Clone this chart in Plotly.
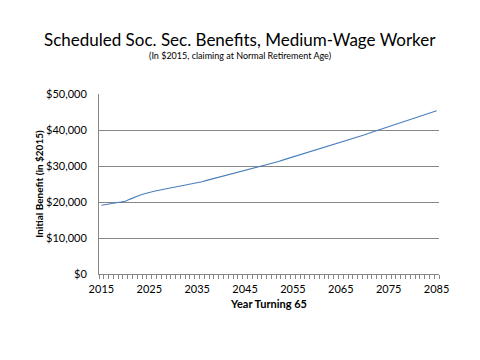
import plotly.graph_objects as go

years = list(range(2015, 2086))
benefit = [
    19100, 19300, 19500, 19700, 19900, 20200, 20800, 21400, 21900, 22300,
    22700, 23000, 23250, 23500, 23750, 24000, 24250, 24500, 24800, 25050,
    25300, 25600, 26000, 26350, 26700, 27050, 27350, 27700, 28050, 28400,
    28700, 29000, 29350, 29650, 30000, 30400, 30850, 31250, 31700, 32100,
    32500, 32950, 33350, 33800, 34200, 34600, 35000, 35400, 35800, 36200,
    36600, 37000, 37400, 37800, 38200, 38700, 39150, 39600, 40000, 40400,
    40800, 41250, 41700, 42100, 42550, 43000, 43450, 43900, 44350, 44850,
    45350,
]
x_ticks = [2015, 2025, 2035, 2045, 2055, 2065, 2075, 2085]
y_ticks = [0, 10000, 20000, 30000, 40000, 50000]
y_labels = ["$0", "$10,000", "$20,000", "$30,000", "$40,000", "$50,000"]

title = "Scheduled Soc. Sec. Benefits, Medium-Wage Worker"
subtitle = "(In $2015, claiming at Normal Retirement Age)"

FONT = "Lato"
L, R, T, B = 99, 41, 94, 86
W, H = 480, 360
pw, ph = W - L - R, H - T - B

fig = go.Figure()
fig.add_trace(go.Scatter(
    x=years, y=benefit, mode="lines",
    line=dict(color="#4a7ebb", width=1.1),
    showlegend=False, hoverinfo="skip",
))

fig.update_layout(
    width=W, height=H,
    margin=dict(l=L, r=R, t=T, b=B, autoexpand=False),
    paper_bgcolor="white", plot_bgcolor="white",
    font=dict(family=FONT, color="#000000", size=11),
    xaxis=dict(
        range=[2014.5, 2085.5], automargin=False,
        tickmode="array", tickvals=x_ticks,
        ticks="", showgrid=False, ticklabelstandoff=5,
        showline=True, linecolor="#868686", linewidth=1,
        tickfont=dict(size=11, family=FONT),
        minor=dict(ticks="outside", ticklen=4, tickcolor="#868686",
                   tickmode="linear", tick0=2014.5, dtick=1, showgrid=False),
        title=dict(text="<b>Year Turning 65</b>", font=dict(size=11, family=FONT),
                   standoff=6),
        zeroline=False,
    ),
    yaxis=dict(
        range=[0, 50000], automargin=False,
        tickmode="array", tickvals=y_ticks, ticktext=y_labels,
        ticks="", showgrid=True, gridcolor="#868686", gridwidth=1,
        ticklabelstandoff=9,
        showline=True, linecolor="#868686", linewidth=1,
        tickfont=dict(size=11, family=FONT),
        title=dict(text="<b>Initial Benefit (in $2015)</b>",
                   font=dict(size=10, family=FONT), standoff=0),
        zeroline=False,
    ),
    annotations=[
        dict(text=title, xref="paper", yref="paper",
             x=(240 - L) / pw, y=(H - B - 40) / ph,
             xanchor="center", yanchor="middle", showarrow=False,
             font=dict(size=17, family=FONT, color="#000000")),
        dict(text=subtitle, xref="paper", yref="paper",
             x=(240 - L) / pw, y=(H - B - 55) / ph,
             xanchor="center", yanchor="middle", showarrow=False,
             font=dict(size=9, family=FONT, color="#000000")),
    ],
)

fig.write_html("out.html", config={"displayModeBar": False})
with open("out.html", "r", encoding="utf-8") as f:
    html = f.read()
html = html.replace("<body>", '<body style="margin:0;padding:0">', 1)
with open("out.html", "w", encoding="utf-8") as f:
    f.write(html)
